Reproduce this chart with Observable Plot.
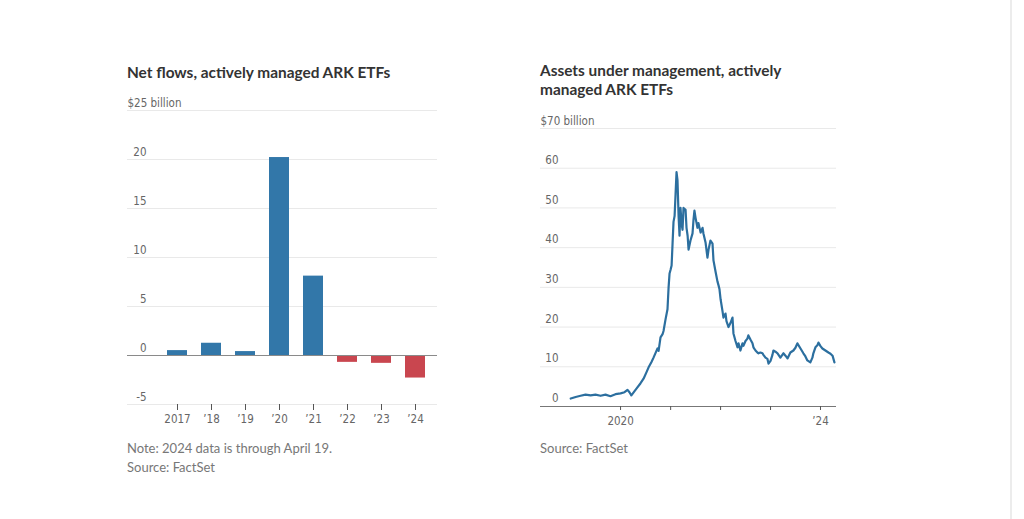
<!DOCTYPE html>
<html>
<head>
<meta charset="utf-8">
<script src="https://cdn.jsdelivr.net/npm/d3@7"></script>
<script src="https://cdn.jsdelivr.net/npm/@observablehq/plot@0.6"></script>
<style>
  html, body { margin: 0; padding: 0; background: #fff; width: 1024px; height: 519px; overflow: hidden; position: relative; }
  .title { position: absolute; font-family: Lato, "Noto Sans", sans-serif; font-weight: 700; font-size: 15.4px; line-height: 19px; color: #333; }
  .note { position: absolute; font-family: Lato, "Noto Sans", sans-serif; font-size: 13px; line-height: 19px; color: #777; }
  .chart { position: absolute; }
  .vline { position: absolute; left: 1010px; top: 0; width: 2px; height: 519px; background: #ececec; }
</style>
</head>
<body>
<div class="title" style="left:127px; top:63px;">Net flows, actively managed ARK ETFs</div>
<div class="title" style="left:540px; top:61px;">Assets under management, actively<br>managed ARK ETFs</div>
<div id="left" class="chart" style="left:100px; top:95px;"></div>
<div id="right" class="chart" style="left:530px; top:110px;"></div>
<div class="note" style="left:127px; top:439px;">Note: 2024 data is through April 19.<br>Source: FactSet</div>
<div class="note" style="left:540px; top:439px;">Source: FactSet</div>
<div class="vline"></div>
<script>
// ---- Left chart data: net flows ($ billion) ----
const flowYears = ["2017", "’18", "’19", "’20", "’21", "’22", "’23", "’24"];
const flowValues = [0.5, 1.25, 0.4, 20.2, 8.1, -0.7, -0.8, -2.3];
const flowTicks = [-5, 0, 5, 10, 15, 20, 25];

// ---- Right chart data: assets under management ($ billion) ----
const aumDates = [
  "2019-01-02","2019-02-07","2019-03-15","2019-04-20","2019-05-27","2019-07-02","2019-08-08","2019-09-13","2019-10-19","2019-11-25",
  "2020-01-01","2020-01-30","2020-02-21","2020-03-06","2020-03-20","2020-04-11","2020-05-03","2020-05-25","2020-06-17","2020-07-08",
  "2020-07-23","2020-08-14","2020-08-29","2020-09-13","2020-09-27","2020-10-05","2020-10-19","2020-11-03","2020-11-10","2020-11-25",
  "2020-12-09","2020-12-17","2020-12-24","2021-01-01","2021-01-08","2021-01-15","2021-01-22","2021-01-30","2021-02-06","2021-02-13",
  "2021-02-20","2021-02-28","2021-03-07","2021-03-14","2021-03-22","2021-03-29","2021-04-05","2021-04-20","2021-04-27","2021-05-05",
  "2021-05-12","2021-05-26","2021-06-10","2021-06-17","2021-06-24","2021-07-02","2021-07-16","2021-07-23","2021-08-08","2021-08-22",
  "2021-08-29","2021-09-13","2021-09-27","2021-10-05","2021-10-19","2021-11-03","2021-11-10","2021-11-25","2021-12-09","2021-12-17",
  "2021-12-24","2022-01-01","2022-01-15","2022-01-22","2022-02-06","2022-02-13","2022-02-28","2022-03-14","2022-03-29","2022-04-05",
  "2022-04-20","2022-05-05","2022-05-12","2022-05-26","2022-06-10","2022-06-17","2022-07-02","2022-07-16","2022-07-23","2022-08-08",
  "2022-08-22","2022-08-29","2022-09-13","2022-09-27","2022-10-05","2022-10-19","2022-11-03","2022-11-10","2022-11-25","2022-12-09",
  "2022-12-17","2023-01-01","2023-01-15","2023-01-22","2023-02-06","2023-02-21","2023-03-14","2023-04-05","2023-04-20","2023-05-05",
  "2023-05-26","2023-06-17","2023-07-02","2023-07-16","2023-08-08","2023-08-29","2023-09-13","2023-09-27","2023-10-19","2023-11-03",
  "2023-11-10","2023-11-25","2023-12-09","2023-12-17","2024-01-01","2024-01-15","2024-02-06","2024-02-28","2024-03-14","2024-03-29",
  "2024-04-12"
];
const aumValues = [
  2.0, 2.4, 2.7, 3.0, 2.8, 3.0, 2.7, 3.0, 2.6, 3.1,
  3.3, 3.6, 4.2, 3.6, 2.8, 3.8, 4.8, 5.8, 7.0, 8.6,
  9.8, 11.2, 12.3, 13.5, 14.6, 14.0, 17.4, 18.2, 19.0, 22.0,
  24.5, 30.0, 33.5, 34.5, 35.5, 41.0, 46.5, 48.0, 53.5, 59.0,
  57.0, 48.0, 43.0, 50.0, 46.0, 44.5, 50.0, 49.5, 45.0, 43.0,
  39.5, 41.8, 43.6, 47.0, 49.3, 47.5, 45.0, 46.2, 43.8, 45.0,
  43.5, 41.3, 37.5, 39.5, 41.8, 41.0, 36.8, 34.0, 31.5, 30.5,
  29.5, 27.0, 24.0, 22.4, 23.4, 21.5, 20.0, 21.0, 22.4, 18.4,
  16.5, 14.9, 15.9, 14.1, 15.9, 15.3, 16.5, 17.1, 17.9, 16.8,
  15.9, 14.9, 14.1, 13.6, 13.4, 13.6, 13.4, 13.0, 12.3, 12.0,
  10.8, 11.5, 13.0, 14.1, 13.8, 13.4, 12.3, 13.4, 12.8, 12.1,
  13.6, 14.1, 14.8, 15.9, 14.6, 13.4, 12.6, 11.6, 11.1, 12.3,
  13.4, 14.9, 15.4, 16.1, 15.2, 14.6, 14.1, 13.6, 13.3, 12.8,
  11.1
];
const aumTicks = [0, 10, 20, 30, 40, 50, 60, 70];
const aumYearTicks = ["2020-01-01", "2021-01-01", "2022-01-01", "2023-01-01", "2024-01-01"];
const aumYearLabels = ["2020", "", "", "", "’24"];

const BLUE = "#3277a9";
const RED = "#c9464f";
const GRID = "#e9e9e9";
const TICKFONT = "'DejaVu Sans Condensed', 'Liberation Sans Narrow', sans-serif";

// ---- Left chart ----
const flows = flowYears.map((y, i) => ({year: y, value: flowValues[i]}));
const left = Plot.plot({
  width: 350, height: 334,
  marginLeft: 27, marginRight: 13, marginTop: 15, marginBottom: 25,
  style: {fontFamily: TICKFONT, fontSize: "11.5px", color: "#666", background: "transparent"},
  x: {type: "band", domain: flowYears, range: [59, 334], paddingInner: 0.4, paddingOuter: 0.2, label: null},
  y: {domain: [-5, 25], axis: null},
  marks: [
    Plot.ruleY(flowTicks.filter(d => d !== 0), {stroke: GRID}),
    Plot.barY(flows.filter(d => d.value >= 0), {x: "year", y: "value", fill: BLUE}),
    Plot.barY(flows.filter(d => d.value < 0), {x: "year", y: "value", fill: RED}),
    Plot.ruleY([0], {stroke: "#8a8a8a", strokeWidth: 1.2}),
    Plot.text(flowTicks.slice(0, -1), {y: d => d, text: d => String(d), frameAnchor: "left", textAnchor: "end", dx: 19, dy: -7, fill: "#666"}),
    Plot.text(flowTicks.slice(-1), {y: d => d, text: d => `$${d} billion`, frameAnchor: "left", textAnchor: "start", dy: -7, fill: "#666"}),
    Plot.axisX({tickSize: 6, tickPadding: 4, stroke: "#555", fill: "#666", label: null})
  ]
});
document.getElementById("left").appendChild(left);

// ---- Right chart ----
const aum = aumDates.map((d, i) => ({date: new Date(d), value: aumValues[i]}));
const yearTickDates = aumYearTicks.map(d => new Date(d));
const right = Plot.plot({
  width: 316, height: 321,
  marginLeft: 10, marginRight: 10, marginTop: 18, marginBottom: 25,
  style: {fontFamily: TICKFONT, fontSize: "11.5px", color: "#666", background: "transparent"},
  x: {type: "utc", domain: [new Date("2018-05-26"), new Date("2024-04-27")], label: null},
  y: {domain: [0, 70], axis: null},
  marks: [
    Plot.ruleY(aumTicks.filter(d => d !== 0), {stroke: GRID}),
    Plot.line(aum, {x: "date", y: "value", stroke: "#2c6f9f", strokeWidth: 2.2}),
    Plot.ruleY([0], {stroke: "#777", strokeWidth: 1.2}),
    Plot.text(aumTicks.slice(0, -1), {y: d => d, text: d => String(d), frameAnchor: "left", textAnchor: "end", dx: 18, dy: -8, fill: "#666"}),
    Plot.text(aumTicks.slice(-1), {y: d => d, text: d => `$${d} billion`, frameAnchor: "left", textAnchor: "start", dy: -7, fill: "#666"}),
    Plot.axisX({ticks: yearTickDates, tickFormat: (d, i) => aumYearLabels[i], tickSize: 4, tickPadding: 6, stroke: "#555", fill: "#666", label: null})
  ]
});
document.getElementById("right").appendChild(right);
</script>
</body>
</html>
